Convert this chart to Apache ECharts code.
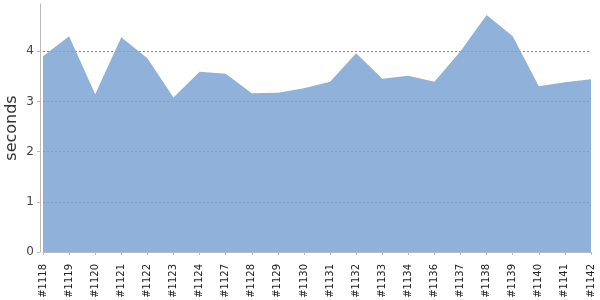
<!DOCTYPE html>
<html><head><meta charset="utf-8">
<script src="https://cdn.jsdelivr.net/npm/echarts@6/dist/echarts.min.js"></script>
<style>html,body{margin:0;padding:0;background:#fff}#c{width:600px;height:300px}</style>
</head><body><div id="c"></div>
<script>
const categories = ['#1118','#1119','#1120','#1121','#1122','#1123','#1124','#1127','#1128','#1129','#1130','#1131','#1132','#1133','#1134','#1136','#1137','#1138','#1139','#1140','#1141','#1142'];
const seconds = [3.90,4.30,3.14,4.28,3.86,3.08,3.59,3.55,3.16,3.17,3.26,3.39,3.96,3.45,3.51,3.39,4.00,4.72,4.30,3.30,3.38,3.44];
const yTicks = [0,1,2,3,4];

const chart = echarts.init(document.getElementById('c'), null, {renderer:'canvas'});
chart.setOption({
  animation:false,
  grid:{left:43,right:9,top:4,bottom:48,containLabel:false,outerBoundsMode:'none'},
  xAxis:{
    type:'category', data:categories, boundaryGap:false, offset:4,
    axisLine:{lineStyle:{color:'#bbb',width:1}},
    axisTick:{alignWithLabel:true,length:3,lineStyle:{color:'#bbb'}},
    axisLabel:{rotate:90,fontSize:10,color:'#222',margin:8,interval:0,fontFamily:'DejaVu Sans'},
    splitLine:{show:false}
  },
  yAxis:{
    type:'value', min:0, max:4.94, interval:1, offset:3,
    name:'seconds', nameLocation:'middle', nameGap:20, nameMoveOverlap:false,
    nameTextStyle:{fontSize:16,color:'#333',fontFamily:'DejaVu Sans'},
    axisLine:{show:true,lineStyle:{color:'#bbb',width:1}},
    axisTick:{show:true,length:3,lineStyle:{color:'#bbb'}},
    axisLabel:{fontSize:12,color:'#444',margin:6,showMaxLabel:false,fontFamily:'DejaVu Sans',
      formatter:v=>yTicks.includes(v)?String(v):''},
    splitLine:{show:true,showMinLine:false,showMaxLine:false,lineStyle:{color:'#888',type:[2,2],width:1}}
  },
  series:[{
    type:'line', data:seconds, symbol:'none',
    lineStyle:{width:0},
    areaStyle:{color:'rgba(123,163,211,0.85)',opacity:1},
    z:3
  }]
});
</script></body></html>
